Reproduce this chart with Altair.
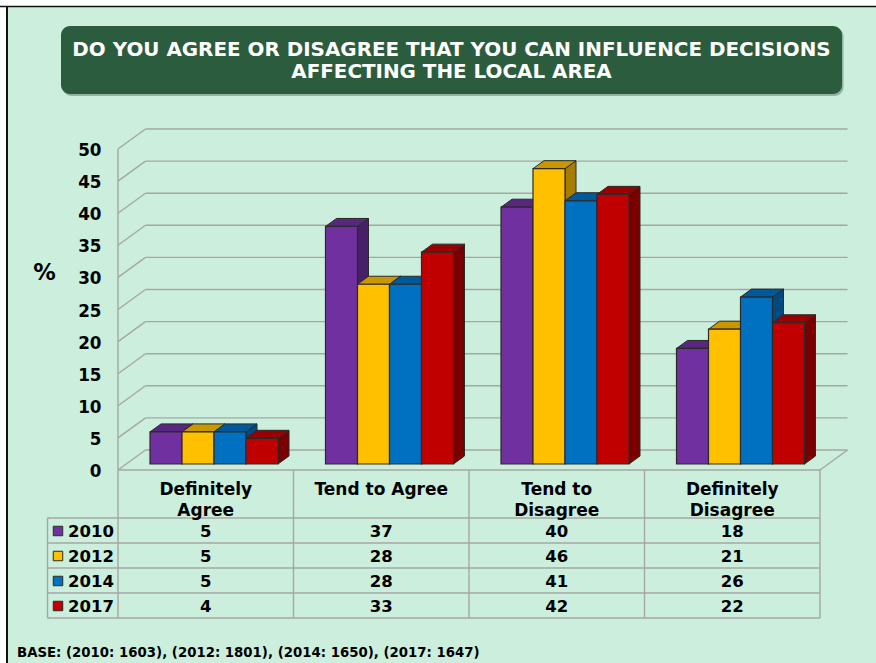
import altair as alt
import pandas as pd

# Survey results, percent of respondents per year
categories = ["Definitely Agree", "Tend to Agree", "Tend to Disagree", "Definitely Disagree"]
category_labels = ["Definitely\nAgree", "Tend to Agree", "Tend to\nDisagree", "Definitely\nDisagree"]
years = ["2010", "2012", "2014", "2017"]
values_2010 = [5, 37, 40, 18]
values_2012 = [5, 28, 46, 21]
values_2014 = [5, 28, 41, 26]
values_2017 = [4, 33, 42, 22]
series = [values_2010, values_2012, values_2014, values_2017]
ticks = list(range(0, 55, 5))
title_lines = ["DO YOU AGREE OR DISAGREE THAT YOU CAN INFLUENCE DECISIONS", "AFFECTING THE LOCAL AREA"]
base_note = "BASE: (2010: 1603), (2012: 1801), (2014: 1650), (2017: 1647)"

front_colors = ["#7030A0", "#FFC000", "#0070C0", "#C00000"]
top_colors = ["#592680", "#C99700", "#00599A", "#990000"]
side_colors = ["#47206A", "#A67D00", "#004A80", "#7A0000"]

FONT = "DejaVu Sans"
BG = "#CCEEDC"
GRID = "#A6A6A6"
EDGE = "#2A2A2A"

# Pseudo-3D projection: a point at depth d (0 = front, 1 = back wall) is shifted
# right and up, converted here to slot and percent units.
SLOT_PX = 175.5
PCT_PX = 6.42
DEPTH_X = 27.5 / SLOT_PX
DEPTH_Y = 20 / PCT_PX
BAR_W = 32 / SLOT_PX
BAR_FRONT, BAR_BACK = 0.3, 0.7

def px(slot, d):
    return slot + d * DEPTH_X

def py(v, d):
    return v + d * DEPTH_Y

X_SCALE = alt.Scale(domain=[0, 4], range=[118, 820], nice=False, zero=False)
Y_SCALE = alt.Scale(domain=[0, 50], range=[470, 149], nice=False, zero=False)
ROW_SCALE = alt.Scale(type="point", domain=years, range=[531, 606], padding=0)


def qx(field):
    return alt.X(f"{field}:Q", scale=X_SCALE, axis=None)


def qy(field):
    return alt.Y(f"{field}:Q", scale=Y_SCALE, axis=None)


def wall_rules(rows):
    return alt.Chart(pd.DataFrame(rows)).mark_rule(color=GRID, strokeWidth=1.4).encode(
        x=qx("x0"), x2="x1:Q", y=qy("y0"), y2="y1:Q"
    )


def box(x0, x1, y0, y1, **style):
    return alt.Chart(pd.DataFrame({"k": [0]})).mark_rect(**style).encode(
        x=alt.value(x0), x2=alt.value(x1), y=alt.value(y0), y2=alt.value(y1)
    )


def page_line(x0, x1, y0, y1, color, width):
    return alt.Chart(pd.DataFrame({"k": [0]})).mark_rule(color=color, strokeWidth=width).encode(
        x=alt.value(x0), x2=alt.value(x1), y=alt.value(y0), y2=alt.value(y1)
    )


layers = []

# Page panel and heading box
layers.append(box(7, 876, 7, 663, fill=BG))
layers.append(page_line(0, 876, 6.5, 6.5, "#111111", 1.5))
layers.append(page_line(7, 7, 6, 663, "#111111", 2))
layers.append(box(62.5, 843.5, 27.5, 96, fill="#86A393", cornerRadius=9, opacity=0.8))
layers.append(box(61, 842, 26, 94, fill="#2B5C3D", cornerRadius=9))
for line, y in zip(title_lines, [49.5, 71.5]):
    layers.append(
        alt.Chart(pd.DataFrame({"t": [line]}))
        .mark_text(font=FONT, fontSize=19.9, fontWeight="bold", color="white", baseline="middle", align="center")
        .encode(x=alt.value(451.5), y=alt.value(y), text="t:N")
    )

# Back wall, side wall and floor
back = [{"x0": px(0, 1), "x1": px(4, 1), "y0": py(t, 1), "y1": py(t, 1)} for t in ticks]
side = [{"x0": px(0, 0), "x1": px(0, 1), "y0": py(t, 0), "y1": py(t, 1)} for t in ticks]
edges = [
    {"x0": 0, "x1": 0, "y0": 0, "y1": 50},
    {"x0": px(4, 0), "x1": px(4, 1), "y0": py(0, 0), "y1": py(0, 1)},
]
layers.append(wall_rules(back + side + edges))

# Value labels beside the side wall
layers.append(
    alt.Chart(pd.DataFrame({"v": ticks}))
    .mark_text(font=FONT, fontSize=16.8, fontWeight="bold", color="black", align="right", baseline="middle", dy=2)
    .encode(x=alt.value(101.5), y=qy("v"), text="v:Q")
)
layers.append(
    alt.Chart(pd.DataFrame({"t": ["%"]}))
    .mark_text(font=FONT, fontSize=22.5, fontWeight="bold", color="black")
    .encode(x=alt.value(44.5), y=alt.value(273), text="t:N")
)

# Bars drawn left to right so nearer faces overlap the ones behind them
for s, vals in enumerate(series):
    side_rows, top_rows, front_rows = [], [], []
    for c, v in enumerate(vals):
        left = c + (1 - 4 * BAR_W) / 2 + s * BAR_W
        right = left + BAR_W
        name = categories[c]
        side_rows += [
            {"cat": name, "x": px(right, BAR_FRONT), "y": py(v, BAR_FRONT), "y2": py(0, BAR_FRONT)},
            {"cat": name, "x": px(right, BAR_BACK), "y": py(v, BAR_BACK), "y2": py(0, BAR_BACK)},
        ]
        top_rows += [
            {"cat": name, "x": px(left, BAR_FRONT), "y": py(v, BAR_FRONT), "y2": py(v, BAR_FRONT)},
            {"cat": name, "x": px(left, BAR_BACK), "y": py(v, BAR_BACK), "y2": py(v, BAR_FRONT)},
            {"cat": name, "x": px(right, BAR_FRONT), "y": py(v, BAR_BACK), "y2": py(v, BAR_FRONT)},
            {"cat": name, "x": px(right, BAR_BACK), "y": py(v, BAR_BACK), "y2": py(v, BAR_BACK)},
        ]
        front_rows.append(
            {"x": px(left, BAR_FRONT), "x2": px(right, BAR_FRONT), "y": py(v, BAR_FRONT), "y2": py(0, BAR_FRONT)}
        )
    layers.append(
        alt.Chart(pd.DataFrame(side_rows))
        .mark_area(fill=side_colors[s], stroke=EDGE, strokeWidth=1, opacity=1)
        .encode(x=qx("x"), y=qy("y"), y2="y2:Q", detail="cat:N")
    )
    layers.append(
        alt.Chart(pd.DataFrame(top_rows))
        .mark_area(fill=top_colors[s], stroke=EDGE, strokeWidth=1, opacity=1)
        .encode(x=qx("x"), y=qy("y"), y2="y2:Q", detail="cat:N")
    )
    layers.append(
        alt.Chart(pd.DataFrame(front_rows))
        .mark_rect(fill=front_colors[s], stroke=EDGE, strokeWidth=1.2)
        .encode(x=qx("x"), x2="x2:Q", y=qy("y"), y2="y2:Q")
    )

# Data table grid
table_lines = [page_line(118, 820, 470, 470, GRID, 1.4)]
for y in [518, 543, 568, 593, 618]:
    table_lines.append(page_line(47.5, 820, y, y, GRID, 1.4))
table_lines.append(page_line(47.5, 47.5, 518, 618, GRID, 1.4))
for slot in range(5):
    table_lines.append(
        alt.Chart(pd.DataFrame({"x": [slot]}))
        .mark_rule(color=GRID, strokeWidth=1.4)
        .encode(x=qx("x"), y=alt.value(470), y2=alt.value(618))
    )
layers += table_lines

# Table header
layers.append(
    alt.Chart(pd.DataFrame({"x": [i + 0.5 for i in range(4)], "t": category_labels}))
    .mark_text(font=FONT, fontSize=17, fontWeight="bold", color="black", baseline="alphabetic",
               lineBreak="\n", lineHeight=21)
    .encode(x=qx("x"), y=alt.value(495), text="t:N")
)

# Table body: one row of values per year, with its colour key
row_y = alt.Y("year:N", scale=ROW_SCALE, axis=None)
cells = pd.DataFrame(
    [{"x": c + 0.5, "year": years[s], "v": vals[c]} for s, vals in enumerate(series) for c in range(4)]
)
layers.append(
    alt.Chart(cells)
    .mark_text(font=FONT, fontSize=16.5, fontWeight="bold", color="black", baseline="middle", dy=0.5)
    .encode(x=qx("x"), y=row_y, text="v:Q")
)
keys = pd.DataFrame({"year": years, "c": front_colors})
layers.append(
    alt.Chart(keys)
    .mark_square(size=90, opacity=1, stroke=EDGE, strokeWidth=1)
    .encode(
        x=alt.value(58),
        y=row_y,
        fill=alt.Fill("c:N", scale=None),
    )
)
layers.append(
    alt.Chart(keys)
    .mark_text(font=FONT, fontSize=16.5, fontWeight="bold", color="black", baseline="middle", align="left", dy=0.5)
    .encode(x=alt.value(68), y=row_y, text="year:N")
)

# Sample sizes
layers.append(
    alt.Chart(pd.DataFrame({"t": [base_note]}))
    .mark_text(font=FONT, fontSize=13.3, fontWeight="bold", color="black", align="left", baseline="middle")
    .encode(x=alt.value(17), y=alt.value(653), text="t:N")
)

chart = (
    alt.layer(*layers)
    .resolve_scale(y="independent")
    .properties(width=876, height=663, padding=0, autosize=alt.AutoSizeParams(type="none"), background="white")
    .configure_view(stroke=None)
)

chart.save("out.html", embed_options={"renderer": "svg", "actions": False})
